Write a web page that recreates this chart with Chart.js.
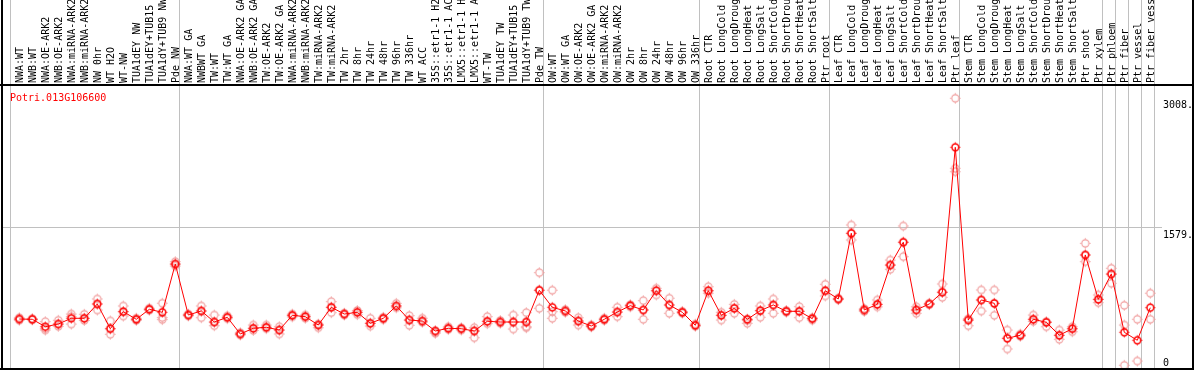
<!DOCTYPE html>
<html><head><meta charset="utf-8">
<script src="https://cdn.jsdelivr.net/npm/chart.js@4/dist/chart.umd.min.js"></script>
<style>html,body{margin:0;padding:0;background:#fff;overflow:hidden}canvas{display:block}</style>
</head><body>
<div style="width:1194px;height:370px"><canvas id="c" width="1194" height="370"></canvas></div>
<script>
const geneId = "Potri.013G106600";
const categories = [
 "NWA:WT","NWB:WT","NWA:OE-ARK2","NWB:OE-ARK2","NWA:miRNA-ARK2","NWB:miRNA-ARK2","NW 0hr","WT H2O","WT-NW","TUA1dEY NW",
 "TUA1dEY+TUB15 NW","TUA1dY+TUB9 NW","Pde NW","NWA:WT GA","NWBWT GA","TW:WT","TW:WT GA","NWA:OE-ARK2 GA","NWB:OE-ARK2 GA","TW:OE-ARK2",
 "TW:OE-ARK2 GA","NWA:miRNA-ARK2 GA","NWB:miRNA-ARK2 GA","TW:miRNA-ARK2","TW:miRNA-ARK2 GA","TW 2hr","TW 8hr","TW 24hr","TW 48hr","TW 96hr",
 "TW 336hr","WT ACC","35S::etr1-1 H2O","35S::etr1-1 ACC","LMX5::etr1-1 H2O","LMX5::etr1-1 ACC","WT-TW","TUA1dEY TW","TUA1dEY+TUB15 TW","TUA1dY+TUB9 TW",
 "Pde TW","OW:WT","OW:WT GA","OW:OE-ARK2","OW:OE-ARK2 GA","OW:miRNA-ARK2","OW:miRNA-ARK2 GA","OW 2hr","OW 8hr","OW 24hr",
 "OW 48hr","OW 96hr","OW 336hr","Root CTR","Root LongCold","Root LongDrought","Root LongHeat","Root LongSalt","Root ShortCold","Root ShortDrought",
 "Root ShortHeat","Root ShortSalt","Ptr root","Leaf CTR","Leaf LongCold","Leaf LongDrought","Leaf LongHeat","Leaf LongSalt","Leaf ShortCold","Leaf ShortDrought",
 "Leaf ShortHeat","Leaf ShortSalt","Ptr leaf","Stem CTR","Stem LongCold","Stem LongDrought","Stem LongHeat","Stem LongSalt","Stem ShortCold","Stem ShortDrought",
 "Stem ShortHeat","Stem ShortSalt","Ptr shoot","Ptr xylem","Ptr phloem","Ptr fiber","Ptr vessel","Ptr fiber vessel"
];
const meanValues = [
 576,573,491,521,584,584,742,469,657,573,
 683,650,1182,620,665,543,595,411,474,485,
 455,617,602,510,705,631,650,529,584,720,
 565,554,444,474,469,444,551,543,543,543,
 893,705,665,554,499,573,653,723,676,888,
 731,650,507,888,617,694,573,668,731,661,
 661,580,888,797,1521,676,738,1171,1422,676,
 742,871,2468,565,786,749,364,397,573,540,
 397,469,1282,793,1072,430,342,701
];
const replicateValues = [
 [590,575,562],[580,570,568],[547,470,455],[562,521,495],[631,602,520],[628,584,560],[797,742,675],[555,469,408],[720,657,608],[585,573,560],
 [695,683,672],[750,592,570],[1208,1182,1160],[630,620,610],[720,665,590],[620,543,502],[610,595,580],[425,411,400],[510,474,450],[510,485,470],
 [491,455,411],[630,617,600],[620,602,585],[520,510,480],[767,705,646],[640,631,620],[670,650,625],[584,529,499],[595,584,570],[749,720,700],
 [613,565,507],[585,554,540],[444,430,419],[490,474,460],[480,469,455],[480,444,370],[602,551,525],[560,543,530],[620,543,466],[646,543,491,480],
 [1087,893,694],[893,657,584],[680,665,650],[590,554,510],[510,499,490],[585,573,560],[705,653,602],[735,723,710],[778,676,573],[915,888,841],
 [805,731,639],[660,650,640],[520,507,495],[932,888,860],[650,617,565],[738,694,639],[573,560,529],[720,668,595],[797,731,639],[670,661,650],
 [712,661,591],[590,580,565],[959,888,830],[805,797,790],[1612,1521,1447],[690,676,660],[786,738,710],[1226,1171,1124],[1601,1422,1263],[711,676,639],
 [750,742,735],[962,871,815],[3008,2237,2199],[580,565,502],[896,786,664],[896,749,617],[455,364,246],[410,397,385],[620,573,550],[545,540,491],
 [455,397,353],[491,469,436],[1410,1282,1208],[841,793,756],[1135,1072,970],[727,510,66],[573,113],[860,573]
];
const groupStarts = [0,13,41,53,63,73,84,85,86,87,88];
const yTickValues = [3008,1579,0];
const yTickLabels = ["3008.","1579.","0"];
const gridValues = [1579];

const meanPts = meanValues.map((v,i)=>({x:i,y:v}));
const repPts = [];
replicateValues.forEach((arr,i)=>arr.forEach(v=>repPts.push({x:i,y:v})));

const FONT = '10px "DejaVu Sans Mono", monospace';

function makeMarker(color, lw, r){
  const c = document.createElement('canvas');
  c.width = 13; c.height = 13;
  const g = c.getContext('2d');
  g.strokeStyle = color; g.fillStyle = color; g.lineWidth = lw;
  g.beginPath(); g.arc(6.5,6.5,r,0,Math.PI*2); g.stroke();
  // small ticks around the ring
  g.fillRect(6,6.5-r-1.6,1,1.2);
  g.fillRect(6,6.5+r+0.4,1,1.2);
  g.fillRect(6.5-r-1.6,6,1.2,1);
  g.fillRect(6.5+r+0.4,6,1.2,1);
  return c;
}
const meanMarker = makeMarker('#ff0000', 1.5, 3.4);
const repMarker = makeMarker('#f09a9a', 1.1, 3.6);

const decor = {
  id:'decor',
  beforeDatasetsDraw(chart){
    const ctx = chart.ctx, xs = chart.scales.x, ys = chart.scales.y;
    ctx.save();
    ctx.fillStyle = '#c0c0c0';
    groupStarts.forEach(s=>{
      const px = Math.floor(xs.getPixelForValue(s-0.65));
      ctx.fillRect(px,0,1,370);
    });
    gridValues.forEach(v=>{
      const py = Math.floor(ys.getPixelForValue(v));
      ctx.fillRect(2,py,1160,1);
    });
    ctx.restore();
  },
  afterDraw(chart){
    const ctx = chart.ctx, xs = chart.scales.x, ys = chart.scales.y;
    ctx.save();
    ctx.fillStyle = '#000';
    ctx.fillRect(1,0,2,370);
    ctx.fillRect(1192,0,2,370);
    ctx.fillRect(0,84,1194,2);
    ctx.fillRect(0,368,1194,2);
    ctx.font = FONT;
    categories.forEach((c,i)=>{
      const px = xs.getPixelForValue(i);
      ctx.save();
      ctx.translate(px+3.3, 83);
      ctx.rotate(-Math.PI/2);
      ctx.textAlign='left'; ctx.textBaseline='alphabetic';
      ctx.fillText(c,0,0);
      ctx.restore();
    });
    ctx.textAlign='left'; ctx.textBaseline='alphabetic';
    yTickValues.forEach((v,k)=>{
      let py = ys.getPixelForValue(v) + 10;
      if (py > 366) py = 366;
      ctx.fillText(yTickLabels[k], 1163, py);
    });
    ctx.fillStyle = '#ff0000';
    ctx.fillText(geneId, 10, 100.5);
    ctx.restore();
  }
};

new Chart(document.getElementById('c'), {
  type:'line',
  data:{datasets:[
    {label:'mean', data:meanPts, order:0, borderColor:'#ff0000', borderWidth:1, tension:0,
     pointStyle:meanMarker, pointRadius:4, hoverRadius:4, clip:false},
    {label:'reps', data:repPts, order:1, showLine:false, pointStyle:repMarker, pointRadius:4, hoverRadius:4, clip:false}
  ]},
  options:{
    responsive:false, animation:false, devicePixelRatio:1, events:[],
    layout:{autoPadding:false, padding:{left:2,right:1,top:85,bottom:1}},
    plugins:{legend:{display:false}, tooltip:{enabled:false}},
    scales:{
      x:{type:'linear', display:false, min:-1.3308, max:90.285},
      y:{type:'linear', display:false, min:25.3, max:3154.5}
    }
  },
  plugins:[decor]
});
</script>
</body></html>
